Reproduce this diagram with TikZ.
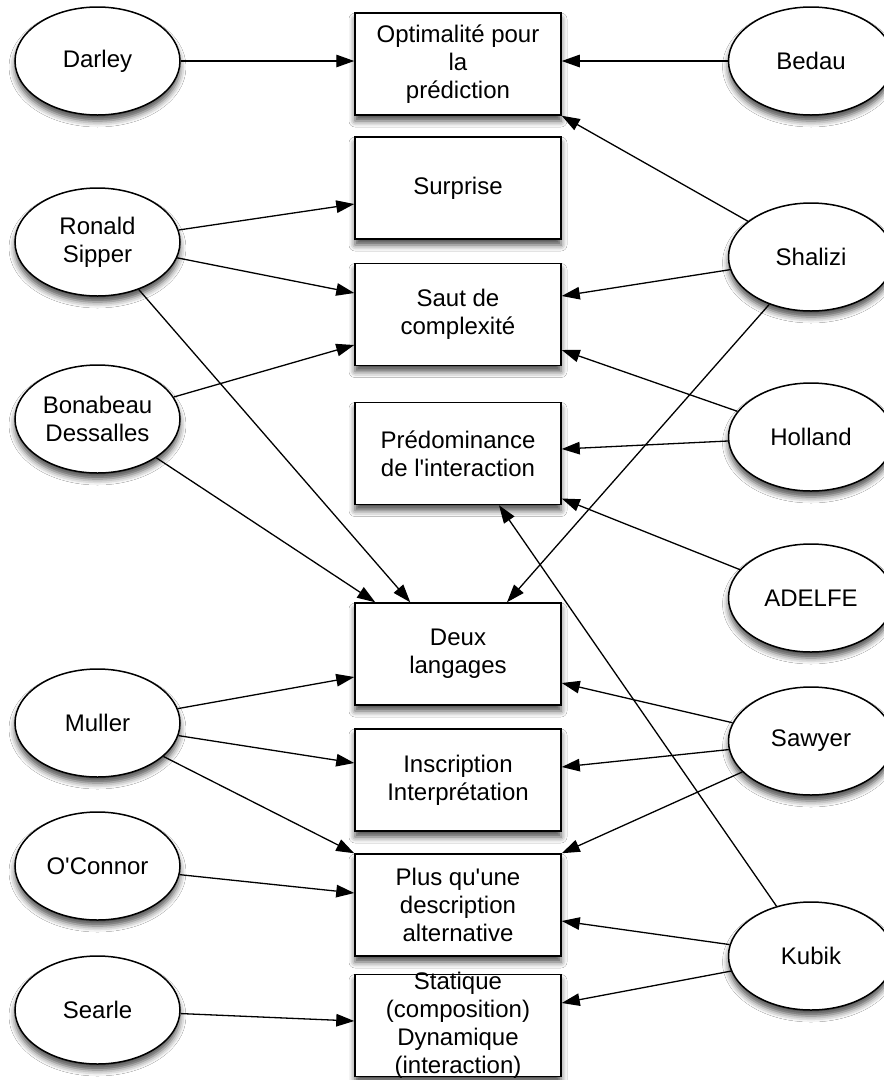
\documentclass[tikz,border=0pt]{standalone}
\usepackage{fontspec}
\setmainfont{Liberation Sans}[Ligatures=TeXOff]
\usetikzlibrary{arrows.meta,calc,shapes.geometric,shadows.blur}
\begin{document}
\begin{tikzpicture}[x=1pt,y=-1pt,
  every node/.style={font=\fontsize{24}{28}\selectfont},
  shade/.style={blur shadow={shadow xshift=0pt,shadow yshift=-6pt,shadow blur radius=6pt,shadow opacity=70}},
  person/.style={ellipse, draw, line width=1.5pt, fill=white, minimum width=165pt, minimum height=108pt, inner sep=0pt, align=center, shade},
  concept/.style={rectangle, draw, line width=1.5pt, fill=white, minimum width=206pt, minimum height=102pt, inner sep=0pt, align=center, shade},
  link/.style={line width=1.3pt, -{Triangle[length=18pt,width=12.5pt]}}]
\fill[white] (0,0) rectangle (884,1080);
\clip (0,0) rectangle (884,1080);
% concepts
\node[concept] (opt) at (458,64) {Optimalité pour\\la\\prédiction};
\node[concept] (surprise) at (458,188) {Surprise};
\node[concept] (saut) at (458,314.5) {Saut de\\complexité};
\node[concept] (predom) at (458,453.5) {Prédominance\\de l'interaction};
\node[concept] (deux) at (458,654) {Deux\\langages};
\node[concept] (inscr) at (458,780) {Inscription\\Interprétation};
\node[concept] (plus) at (458,905) {Plus qu'une\\description\\alternative};
\node[concept, label={[align=center]center:Statique\\(composition)\\Dynamique\\(interaction)}] (stat) at (458,1025.5) {};
% people left
\node[person] (darley) at (97.5,61) {Darley};
\node[person] (sipper) at (97.5,242) {Ronald\\Sipper};
\node[person] (bonabeau) at (97.5,419) {Bonabeau\\Dessalles};
\node[person] (muller) at (97.5,723) {Muller};
\node[person] (oconnor) at (97.5,866) {O'Connor};
\node[person] (searle) at (97.5,1010) {Searle};
% people right
\node[person] (bedau) at (811,61) {Bedau};
\node[person] (shalizi) at (811,257) {Shalizi};
\node[person] (holland) at (811,437) {Holland};
\node[person] (adelfe) at (811,598) {ADELFE};
\node[person] (sawyer) at (811,741) {Sawyer};
\node[person] (kubik) at (811,956) {Kubik};
% connectors
\draw[link] (darley.east) -- (darley.east -| opt.west);
\draw[link] (bedau.west) -- (bedau.west -| opt.east);
\draw[link] (shalizi) -- (opt.south east);
\draw[link] (sipper) -- ($(surprise.west)+(0,16)$);
\draw[link] (sipper) -- ($(saut.west)+(0,-21.5)$);
\draw[link] (sipper) -- ($(deux.north west)+(56,0)$);
\draw[link] (shalizi) -- ($(saut.east)+(0,-18.5)$);
\draw[link] (shalizi) -- ($(deux.north)+(49,0)$);
\draw[link] (bonabeau) -- ($(saut.west)+(0,30.5)$);
\draw[link] (holland) -- ($(saut.east)+(0,35.5)$);
\draw[link] (holland) -- ($(predom.east)+(0,-4.5)$);
\draw[link] (bonabeau) -- ($(deux.north west)+(21,0)$);
\draw[link] (adelfe) -- ($(predom.east)+(0,45)$);
\draw[link] (kubik) -- ($(predom.south)+(41,0)$);
\draw[link] (muller) -- ($(deux.west)+(0,23)$);
\draw[link] (sawyer) -- ($(deux.east)+(0,29)$);
\draw[link] (muller) -- ($(inscr.west)+(0,-17)$);
\draw[link] (sawyer) -- ($(inscr.east)+(0,-13)$);
\draw[link] (muller) -- (plus.north west);
\draw[link] (sawyer) -- (plus.north east);
\draw[link] (oconnor) -- ($(plus.west)+(0,-12)$);
\draw[link] (kubik) -- ($(plus.east)+(0,16)$);
\draw[link] (searle) -- ($(stat.west)+(0,-4.5)$);
\draw[link] (kubik) -- ($(stat.east)+(0,-22.5)$);
\end{tikzpicture}
\end{document}
